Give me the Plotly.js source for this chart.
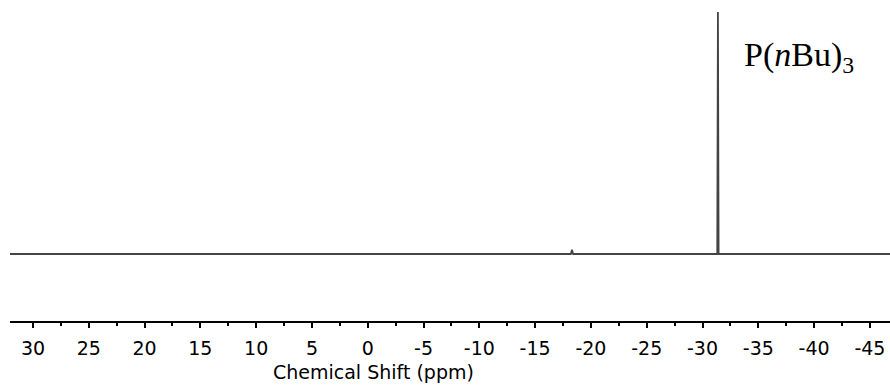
<!DOCTYPE html>
<html>
<head>
<meta charset="utf-8">
<script src="https://cdn.plot.ly/plotly-3.0.1.min.js"></script>
<style>html,body{margin:0;padding:0;background:#fff}#chart{width:890px;height:390px}</style>
</head>
<body>
<div id="chart"></div>
<script>
// Chemical shift (ppm) and relative intensity
const shiftPpm = [32.1, -18.2, -18.3, -18.4, -31.32, -31.38, -31.44, -47];
const intensity = [0, 0, 1.8, 0, 0, 100, 0, 0];
const tickVals = [30, 25, 20, 15, 10, 5, 0, -5, -10, -15, -20, -25, -30, -35, -40, -45];
const tickText = ["30","25","20","15","10","5","0","-5","-10","-15","-20","-25","-30","-35","-40","-45"];
const axisTitle = "Chemical Shift (ppm)";
const peakLabel = "P(<i>n</i>Bu)<sub>3</sub>";

const trace = {
  x: shiftPpm, y: intensity, type: 'scatter', mode: 'lines',
  line: {color: '#444', width: 1.8}, hoverinfo: 'skip'
};

const layout = {
  width: 890, height: 390,
  margin: {l: 10, r: 0, t: 10, b: 69},
  paper_bgcolor: '#fff', plot_bgcolor: '#fff',
  showlegend: false,
  xaxis: {
    range: [32.06, -46.8],
    tickmode: 'array', tickvals: tickVals, ticktext: tickText,
    ticks: 'outside', ticklen: 5, tickwidth: 2, tickcolor: '#000',
    minor: {dtick: 2.5, ticks: 'outside', ticklen: 3, tickwidth: 2, tickcolor: '#000', showgrid: false},
    showline: true, linecolor: '#000', linewidth: 2,
    showgrid: false, zeroline: false,
    tickfont: {family: 'DejaVu Sans', size: 19, color: '#000'},
    ticklabelstandoff: 4
  },
  yaxis: {
    range: [-27.7, 100.83], visible: false, showgrid: false, zeroline: false
  },
  annotations: [
    {text: axisTitle, xref: 'paper', yref: 'paper', x: 0.4136, y: -0.163,
     xanchor: 'center', yanchor: 'middle', showarrow: false,
     font: {family: 'DejaVu Sans', size: 19, color: '#000'}},
    {text: peakLabel, xref: 'paper', yref: 'paper', x: 0.832, y: 0.848,
     xanchor: 'left', yanchor: 'middle', showarrow: false,
     font: {family: 'Liberation Serif', size: 34, color: '#000'}}
  ]
};

Plotly.newPlot('chart', [trace], layout, {staticPlot: true, displayModeBar: false});
</script>
</body>
</html>
